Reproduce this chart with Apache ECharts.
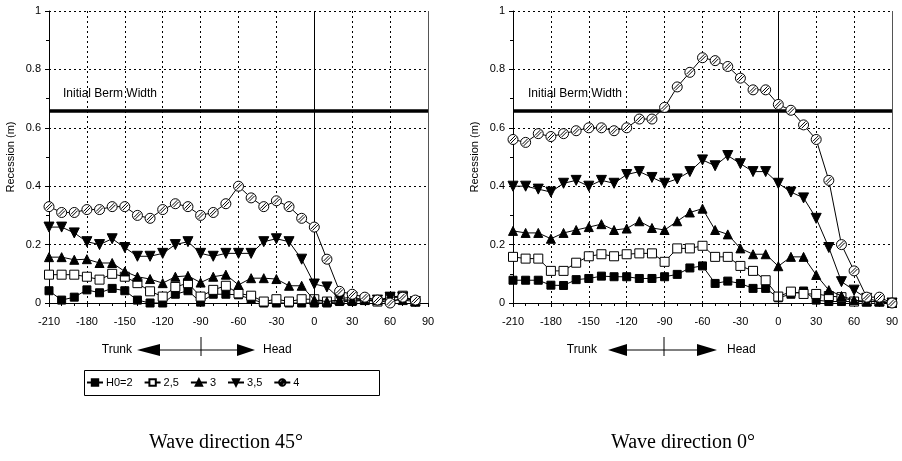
<!DOCTYPE html>
<html>
<head>
<meta charset="utf-8">
<script src="https://cdn.jsdelivr.net/npm/echarts@6/dist/echarts.min.js"></script>
<style>
html,body{margin:0;padding:0;background:#fff;}
#chart{width:902px;height:461px;}
</style>
</head>
<body>
<div id="chart"></div>
<script>
// ---- data ----
const seriesNames = ['H0=2', '2,5', '3', '3,5', '4'];
const xTicks = [-210, -180, -150, -120, -90, -60, -30, 0, 30, 60, 90];
const bermWidth = 0.655;

// Wave direction 45 deg (left panel)
const xLeft = [-210,-200,-190,-180,-170,-160,-150,-140,-130,-120,-110,-100,-90,-80,-70,-60,-50,-40,-30,-20,-10,0,10,20,30,40,50,60,70,80];
const h2Left  = [0.042,0.01,0.02,0.045,0.035,0.05,0.042,0.01,0,0, 0.03,0.042,0.003,0.03,0.03,0.028,0.013,0,0,0, 0,0,0,0.005,0.005,0.01,0.005,0.02,0.02,0.005];
const h25Left = [0.097,0.097,0.097,0.09,0.08,0.10,0.09,0.068,0.04,0.022, 0.055,0.068,0.022,0.045,0.059,0.033,0.025,0.005,0.013,0.005, 0.013,0.013,0.005,0.01,0.01,0.012,0.005,0.02,0.025,0.005];
const h3Left  = [0.157,0.157,0.148,0.15,0.137,0.137,0.108,0.09,0.082,0.068, 0.09,0.093,0.07,0.09,0.097,0.062,0.085,0.085,0.082,0.059, 0.059,0.01,0.005,0.01,0.01,0.01,0.01,0.01,0.01,0.005];
const h35Left = [0.26,0.26,0.24,0.21,0.20,0.22,0.19,0.16,0.16,0.17, 0.20,0.21,0.17,0.16,0.17,0.17,0.17,0.21,0.22,0.21, 0.15,0.065,0.055,0.015,0.02,0.01,0.01,0.02,0.02,0.005];
const h4Left  = [0.33,0.31,0.31,0.32,0.32,0.33,0.33,0.30,0.29,0.32, 0.34,0.33,0.30,0.31,0.34,0.40,0.36,0.33,0.35,0.33, 0.29,0.26,0.15,0.04,0.03,0.02,0.01,0.0,0.02,0.01];

// Wave direction 0 deg (right panel)
const xRight = [-210,-200,-190,-180,-170,-160,-150,-140,-130,-120,-110,-100,-90,-80,-70,-60,-50,-40,-30,-20,-10,0,10,20,30,40,50,60,70,80,90];
const h2Right  = [0.078,0.078,0.078,0.061,0.06,0.08,0.084,0.092,0.09,0.09, 0.084,0.084,0.09,0.098,0.12,0.127,0.067,0.075,0.067,0.05, 0.05,0.018,0.03,0.041,0.01,0.005,0.005,0.005,0.005,0.005, 0];
const h25Right = [0.158,0.152,0.152,0.11,0.11,0.138,0.16,0.167,0.16,0.167, 0.17,0.17,0.141,0.187,0.187,0.196,0.158,0.158,0.127,0.11, 0.078,0.022,0.039,0.031,0.031,0.024,0.02,0.005,0.005,0.005, 0];
const h3Right  = [0.247,0.24,0.24,0.22,0.24,0.25,0.26,0.27,0.25,0.255, 0.28,0.257,0.25,0.28,0.31,0.323,0.25,0.235,0.187,0.167, 0.167,0.126,0.158,0.158,0.096,0.044,0.024,0.01,0.005,0.005, 0];
const h35Right = [0.40,0.40,0.39,0.38,0.41,0.42,0.40,0.42,0.41,0.44, 0.45,0.43,0.41,0.425,0.45,0.49,0.47,0.505,0.477,0.45, 0.45,0.41,0.38,0.36,0.29,0.19,0.073,0.044,0.016,0.005, 0];
const h4Right  = [0.56,0.55,0.58,0.57,0.58,0.59,0.60,0.60,0.59,0.60, 0.63,0.63,0.67,0.74,0.79,0.84,0.83,0.81,0.77,0.73, 0.73,0.68,0.66,0.61,0.56,0.42,0.20,0.11,0.02,0.02, 0];

// ---- styles ----
const FONT = "'Liberation Sans', Arial, sans-serif";
const hatchCircle = 'path://M0,10 A10,10 0 1,1 20,10 A10,10 0 1,1 0,10 Z M3,14 L14,3 M6,17 L17,6';
const markerStyles = [
  {symbol: 'rect', size: 8, fill: '#000', rotate: 0},
  {symbol: 'rect', size: 9, fill: '#fff', rotate: 0},
  {symbol: 'triangle', size: 9, fill: '#000', rotate: 0},
  {symbol: 'triangle', size: 10, fill: '#000', rotate: 180},
  {symbol: hatchCircle, size: 10, fill: '#fff', rotate: 0}
];

function zip(xs, ys) { return xs.map((x, i) => [x, ys[i]]); }

function makeSeries(idx, xs, ys, k) {
  const m = markerStyles[k];
  const s = {
    type: 'line',
    name: seriesNames[k],
    xAxisIndex: idx, yAxisIndex: idx,
    data: zip(xs, ys),
    symbol: m.symbol, symbolSize: m.size, symbolRotate: m.rotate,
    showSymbol: true,
    lineStyle: {color: '#000', width: 1},
    itemStyle: {color: m.fill, borderColor: '#000', borderWidth: 1},
    z: 3 + k,
    animation: false
  };
  if (k === 0) {
    s.markLine = {
      silent: true, symbol: 'none', animation: false,
      label: {show: false},
      data: [
        {yAxis: bermWidth, lineStyle: {color: '#000', width: 3.5, type: 'solid'}},
        {xAxis: 0, lineStyle: {color: '#000', width: 1, type: 'solid'}},
        {xAxis: 90, lineStyle: {color: '#555', width: 1, type: 'solid'}}
      ]
    };
  }
  return s;
}

function xAxisDef(idx) {
  return {
    type: 'value', gridIndex: idx, min: -210, max: 90, interval: 30,
    axisLine: {show: true, onZero: false, lineStyle: {color: '#000', width: 1}},
    axisTick: {show: true, length: 4, lineStyle: {color: '#000'}},
    minorTick: {show: true, splitNumber: 3, length: 3, lineStyle: {color: '#000'}},
    axisLabel: {color: '#000', fontFamily: FONT, fontSize: 11, margin: 13,
      formatter: v => xTicks.includes(v) ? String(v) : ''},
    splitLine: {show: true, lineStyle: {color: '#000', width: 1, type: [2, 3]}}
  };
}
function yAxisDef(idx) {
  return {
    type: 'value', gridIndex: idx, min: 0, max: 1, interval: 0.2,
    name: 'Recession (m)', nameLocation: 'middle', nameGap: 33,
    nameTextStyle: {color: '#000', fontFamily: FONT, fontSize: 11},
    axisLine: {show: true, onZero: false, lineStyle: {color: '#000', width: 1}},
    axisTick: {show: true, length: 4, lineStyle: {color: '#000'}},
    minorTick: {show: true, splitNumber: 2, length: 3, lineStyle: {color: '#000'}},
    axisLabel: {color: '#000', fontFamily: FONT, fontSize: 11, margin: 8},
    splitLine: {show: true, lineStyle: {color: '#000', width: 1, type: [2, 3]}}
  };
}

const series = [];
[h2Left, h25Left, h3Left, h35Left, h4Left].forEach((ys, k) => series.push(makeSeries(0, xLeft, ys, k)));
[h2Right, h25Right, h3Right, h35Right, h4Right].forEach((ys, k) => series.push(makeSeries(1, xRight, ys, k)));

function arrowGroup(tipL, baseL, baseR, tipR, tickX, cy, trunkRight, headLeft) {
  return [
    {type: 'polygon', shape: {points: [[tipL, cy], [baseL, cy - 6], [baseL, cy + 6]]}, style: {fill: '#000'}},
    {type: 'polygon', shape: {points: [[tipR, cy], [baseR, cy - 6], [baseR, cy + 6]]}, style: {fill: '#000'}},
    {type: 'line', shape: {x1: baseL, y1: cy, x2: baseR, y2: cy}, style: {stroke: '#000', lineWidth: 1}},
    {type: 'line', shape: {x1: tickX, y1: cy - 13, x2: tickX, y2: cy + 6}, style: {stroke: '#000', lineWidth: 1}},
    {type: 'text', x: trunkRight, y: cy, style: {text: 'Trunk', fill: '#000', font: '12px ' + FONT, align: 'right', verticalAlign: 'middle'}},
    {type: 'text', x: headLeft, y: cy, style: {text: 'Head', fill: '#000', font: '12px ' + FONT, align: 'left', verticalAlign: 'middle'}}
  ];
}

const graphic = [].concat(
  arrowGroup(137, 160, 237, 255, 201, 350, 132, 263),
  arrowGroup(608, 627, 697, 717, 664, 350, 597, 727),
  [
    {type: 'rect', shape: {x: 84.5, y: 370.5, width: 295, height: 25}, style: {fill: 'none', stroke: '#000', lineWidth: 1}, z: 1},
    {type: 'text', x: 63, y: 94, style: {text: 'Initial Berm Width', fill: '#000', font: '12px ' + FONT, verticalAlign: 'middle'}},
    {type: 'text', x: 528, y: 94, style: {text: 'Initial Berm Width', fill: '#000', font: '12px ' + FONT, verticalAlign: 'middle'}},
    {type: 'text', x: 226, y: 443, style: {text: 'Wave direction 45°', fill: '#000', font: "20px 'Liberation Serif', 'Times New Roman', serif", align: 'center', verticalAlign: 'middle'}},
    {type: 'text', x: 683, y: 443, style: {text: 'Wave direction 0°', fill: '#000', font: "20px 'Liberation Serif', 'Times New Roman', serif", align: 'center', verticalAlign: 'middle'}}
  ]
);

const option = {
  animation: false,
  backgroundColor: '#fff',
  grid: [
    {left: 49, top: 11, width: 379, height: 292},
    {left: 513, top: 11, width: 379, height: 292}
  ],
  xAxis: [xAxisDef(0), xAxisDef(1)],
  yAxis: [yAxisDef(0), yAxisDef(1)],
  legend: {
    show: true, left: 86, top: 377, orient: 'horizontal',
    data: seriesNames, itemWidth: 16, itemHeight: 8, itemGap: 11,
    textStyle: {color: '#000', fontFamily: FONT, fontSize: 11, padding: [0, 0, 0, -2]},
    selectedMode: false, padding: 0
  },
  series: series,
  graphic: graphic
};

const chart = echarts.init(document.getElementById('chart'), null, {renderer: 'canvas'});
chart.setOption(option);
</script>
</body>
</html>
